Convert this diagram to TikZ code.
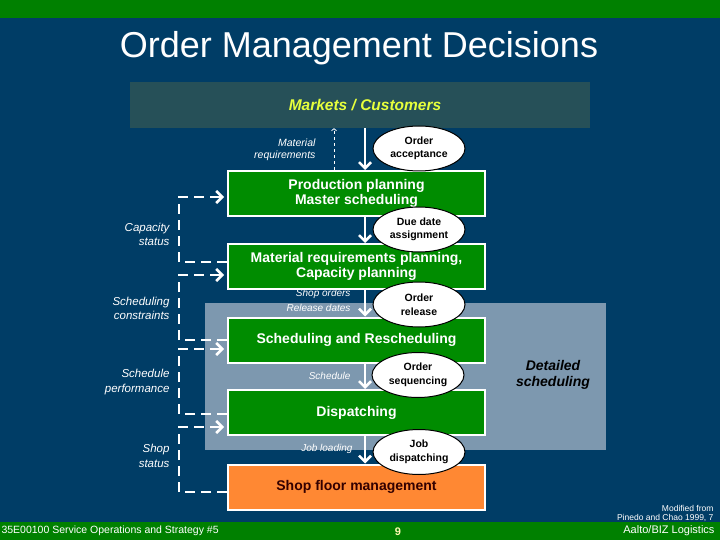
\documentclass[tikz,border=0pt]{standalone}
\usepackage{fontspec}
\setmainfont{Liberation Sans}
\usetikzlibrary{shapes.geometric,arrows.meta}
\definecolor{navy}{RGB}{0,61,102}
\definecolor{bargreen}{RGB}{0,128,0}
\definecolor{stagegreen}{RGB}{0,140,0}
\definecolor{shoporange}{RGB}{255,136,51}
\definecolor{marketgray}{RGB}{38,80,88}
\definecolor{panelblue}{RGB}{125,152,175}
\definecolor{marketyellow}{RGB}{230,255,60}
\begin{document}
\begin{tikzpicture}[x=1pt,y=-1pt,
  stage/.style={draw=white,line width=2pt,fill=stagegreen,text=white,font=\bfseries\fontsize{14}{15}\selectfont,
    minimum width=257pt,minimum height=45pt,align=center,inner sep=0pt},
  decision/.style={ellipse,draw=black,line width=1pt,fill=white,font=\bfseries\fontsize{10.5}{13.5}\selectfont,
    minimum width=92pt,minimum height=45pt,inner sep=0pt,align=center},
  flow/.style={draw=white,line width=2.5pt,-{Straight Barb[length=6pt,width=12pt]}},
  feedback/.style={draw=white,line width=2.5pt,dash pattern=on 10pt off 6pt},
  sidelab/.style={text=white,font=\itshape\fontsize{11.5}{14.5}\selectfont,align=right,anchor=east},
  info/.style={text=white,font=\itshape\fontsize{10}{11}\selectfont,anchor=east}]
  \useasboundingbox(0,0)rectangle(720,540);
  \fill[navy](0,0)rectangle(720,540);
  \fill[bargreen](0,0)rectangle(720,18);
  \fill[bargreen](0,522)rectangle(720,540);
  \fill[panelblue](205,303)rectangle(606,450);

  \node[text=white,font=\fontsize{36}{40}\selectfont](title)at(359,48){Order Management Decisions};
  \node[fill=marketgray,minimum width=460pt,minimum height=46pt,inner sep=0pt,
    text=marketyellow,font=\bfseries\itshape\fontsize{15.5}{17}\selectfont](mkt)at(360,105){\hspace{10pt}Markets / Customers};

  \node[stage](pp)at(356.5,193.5){Production planning\\Master scheduling};
  \node[stage](mrp)at(356.5,266.5){Material requirements planning,\\Capacity planning};
  \node[stage](sr)at(356.5,340){Scheduling and Rescheduling};
  \node[stage](disp)at(356.5,412.5){Dispatching};
  \node[stage,fill=shoporange,text=black!80!red](sf)at(356.5,487){Shop floor management};

  \draw[flow]([xshift=5pt]mkt.south)--([xshift=8.5pt]pp.north);
  \draw[white,line width=0.8pt,dashed,-{Straight Barb[length=2pt,width=5pt]}]([xshift=-22.5pt]pp.north)--([xshift=-26pt]mkt.south);
  \draw[flow]([xshift=8.5pt]pp.south)--([xshift=8.5pt]mrp.north);
  \draw[flow]([xshift=8.5pt]mrp.south)--([xshift=8.5pt]sr.north);
  \draw[flow]([xshift=8.5pt]sr.south)--([xshift=8.5pt]disp.north);
  \draw[flow]([xshift=8.5pt]disp.south)--([xshift=8.5pt]sf.north);

  \draw[feedback]([yshift=4.5pt]mrp.west)--++(-48,0)|-([yshift=-3.5pt,xshift=-3pt]pp.west);
  \draw[feedback]([yshift=0pt]sr.west)--++(-48,0)|-([yshift=-8.5pt,xshift=-3pt]mrp.west);
  \draw[feedback]([yshift=-1.5pt]disp.west)--++(-48,0)|-([yshift=-9pt,xshift=-3pt]sr.west);
  \draw[feedback]([yshift=-5pt]sf.west)--++(-48,0)|-([yshift=-14.5pt,xshift=-3pt]disp.west);
  \draw[flow,shorten <=-1pt]([yshift=-3.5pt,xshift=-16pt]pp.west)--([yshift=-3.5pt,xshift=-3pt]pp.west);
  \draw[flow,shorten <=-1pt]([yshift=-8.5pt,xshift=-16pt]mrp.west)--([yshift=-8.5pt,xshift=-3pt]mrp.west);
  \draw[flow,shorten <=-1pt]([yshift=-9pt,xshift=-16pt]sr.west)--([yshift=-9pt,xshift=-3pt]sr.west);
  \draw[flow,shorten <=-1pt]([yshift=-14.5pt,xshift=-16pt]disp.west)--([yshift=-14.5pt,xshift=-3pt]disp.west);

  \node[decision](oa)at(419,148.5){Order\\acceptance};
  \node[decision](dda)at(419,229.5){Due date\\assignment};
  \node[decision](orel)at(419,304.5){Order\\release};
  \node[decision](oseq)at(418,375){Order\\sequencing};
  \node[decision](jd)at(419,452){Job\\dispatching};

  \node[text=white,font=\itshape\fontsize{10.5}{11.5}\selectfont,align=right,anchor=east](matreq)at(319,150){Material\\requirements};
  \node[sidelab](capst)at(173,234.5){Capacity\\status};
  \node[sidelab](schcon)at(173,308.5){Scheduling\\constraints};
  \node[sidelab](schperf)at(173,382){Schedule\\performance};
  \node[sidelab](shopst)at(173,456){Shop\\status};
  \node[info](shopord)at(354,294){Shop orders};
  \node[info](reldat)at(354,308){Release dates};
  \node[info](sched)at(354,376){Schedule};
  \node[info](jobload)at(356,449){Job loading};
  \node[font=\bfseries\itshape\fontsize{14}{16}\selectfont,align=center](det)at(553,375){Detailed\\scheduling};

  \node[text=white,font=\fontsize{8.5}{9}\selectfont,align=right,anchor=east](src)at(717,513.5){Modified from\\Pinedo and Chao 1999, 7};
  \node[text=white,font=\fontsize{10.5}{12}\selectfont,anchor=west](course)at(-2,531){35E00100 Service Operations and Strategy \#5};
  \node[text=yellow!30,font=\bfseries\fontsize{11}{12}\selectfont](page)at(398,532){9};
  \node[text=white,font=\fontsize{11}{12}\selectfont,anchor=east](org)at(718,531){Aalto/BIZ Logistics};
\end{tikzpicture}
\end{document}
